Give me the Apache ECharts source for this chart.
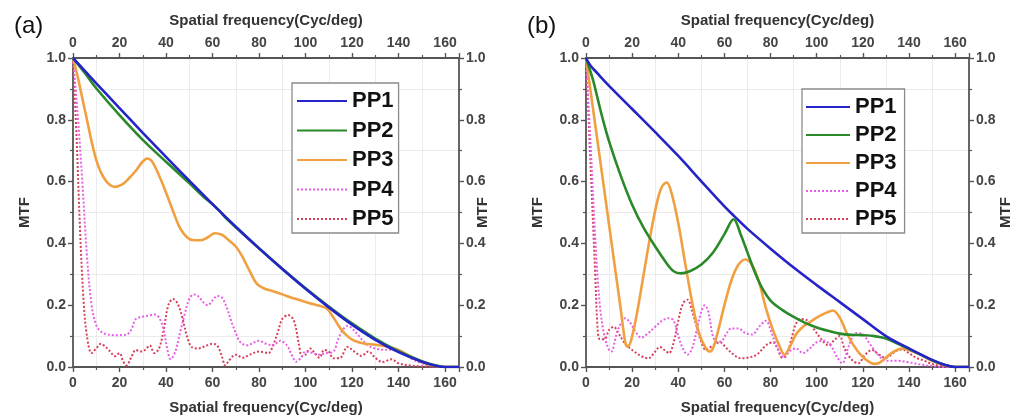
<!DOCTYPE html>
<html>
<head>
<meta charset="utf-8">
<script src="https://cdn.jsdelivr.net/npm/echarts@6/dist/echarts.min.js"></script>
<style>
  html, body { margin: 0; padding: 0; background: #fff; }
  #chart { width: 1016px; height: 418px; }
</style>
</head>
<body>
<div id="chart"></div>
<script>
// MTF curves, [spatial frequency (cyc/deg), MTF]
const seriesNames = ['PP1', 'PP2', 'PP3', 'PP4', 'PP5'];
const xTickLabels = [0, 20, 40, 60, 80, 100, 120, 140, 160];
const yTickLabels = [0, 0.2, 0.4, 0.6, 0.8, 1.0];
const faintGridX = [10, 30, 50, 70, 90, 110, 130, 150];
const faintGridY = [0.1, 0.3, 0.5, 0.7, 0.9];

// panel (a)
const a_PP1 = [[0,1],[10,0.918],[20,0.838],[30,0.758],[40,0.68],[50,0.603],[60,0.527],[70,0.454],[80,0.384],[90,0.317],[100,0.253],[110,0.193],[120,0.137],[130,0.088],[140,0.048],[150,0.017],[156,0.004],[160,0],[166,0]];
const a_PP2 = [[0,1],[5,0.952],[10,0.902],[20,0.815],[30,0.735],[40,0.664],[50,0.595],[56,0.552],[60,0.527],[63,0.505],[66,0.48],[70,0.452],[80,0.384],[90,0.318],[100,0.255],[110,0.196],[120,0.141],[130,0.092],[140,0.051],[150,0.019],[156,0.005],[160,0],[166,0]];
const a_PP3 = [[0,1],[2,0.94],[4,0.87],[6,0.8],[8,0.73],[10,0.67],[12,0.63],[15,0.595],[18,0.583],[21,0.59],[24,0.61],[27,0.635],[30,0.665],[32,0.675],[34,0.665],[37,0.62],[40,0.565],[43,0.505],[46,0.45],[49,0.42],[52,0.41],[55,0.41],[58,0.42],[61,0.433],[64,0.428],[67,0.41],[70,0.39],[73,0.355],[76,0.31],[79,0.27],[82,0.255],[86,0.245],[90,0.235],[95,0.222],[100,0.21],[105,0.2],[109,0.19],[112,0.16],[115,0.125],[118,0.1],[121,0.085],[125,0.076],[130,0.072],[135,0.066],[140,0.055],[145,0.035],[150,0.016],[155,0.005],[160,0],[166,0]];
const a_PP4 = [[0,1],[2,0.82],[4,0.6],[6,0.36],[8,0.2],[10,0.135],[12,0.115],[15,0.105],[19,0.103],[23,0.105],[25,0.12],[27,0.155],[30,0.163],[33,0.167],[35,0.17],[37,0.16],[39,0.12],[40.5,0.06],[42,0.025],[44,0.05],[46,0.11],[48,0.17],[50,0.22],[52,0.235],[54,0.228],[56,0.21],[58,0.2],[60,0.215],[62,0.23],[64,0.225],[66,0.195],[68,0.15],[70,0.11],[72,0.08],[75,0.07],[78,0.08],[80,0.085],[83,0.075],[86,0.07],[89,0.085],[92,0.07],[94,0.04],[96,0.017],[98,0.03],[100,0.05],[103,0.045],[106,0.04],[109,0.045],[112,0.05],[114,0.09],[116,0.12],[118,0.133],[120,0.125],[123,0.1],[126,0.075],[129,0.062],[133,0.056],[138,0.055],[142,0.045],[146,0.025],[150,0.012],[155,0.004],[160,0],[166,0]];
const a_PP5 = [[0,1],[1.5,0.75],[3,0.45],[4.5,0.22],[6,0.1],[8,0.045],[10,0.06],[12,0.075],[14,0.065],[16,0.05],[18,0.035],[20,0.045],[21.5,0.02],[23,0.005],[25,0.03],[27,0.055],[29,0.05],[31,0.055],[33,0.07],[35,0.045],[37,0.06],[39,0.12],[41,0.2],[43,0.22],[45,0.205],[47,0.16],[49,0.1],[51,0.065],[54,0.06],[57,0.068],[60,0.075],[62,0.07],[64,0.035],[65.5,0.005],[67,0.02],[70,0.04],[73,0.03],[76,0.04],[80,0.05],[84,0.045],[86,0.07],[88,0.11],[90,0.155],[92.5,0.168],[95,0.15],[97,0.08],[98.5,0.035],[100,0.04],[102,0.06],[104,0.045],[106,0.03],[108,0.055],[110,0.05],[112,0.028],[115,0.03],[118,0.065],[121,0.05],[124,0.036],[127,0.05],[130,0.03],[133,0.016],[137,0.025],[140,0.012],[145,0.005],[150,0.002],[160,0],[166,0]];

// panel (b)
const b_PP1 = [[0,1],[2,0.975],[5,0.95],[10,0.91],[20,0.835],[30,0.76],[40,0.683],[50,0.601],[60,0.52],[64,0.49],[70,0.447],[80,0.383],[90,0.322],[100,0.265],[110,0.21],[120,0.155],[130,0.1],[140,0.06],[150,0.023],[156,0.006],[160,0],[166,0]];
const b_PP2 = [[0,1],[3,0.93],[5,0.87],[7,0.81],[10,0.73],[15,0.62],[20,0.525],[25,0.45],[30,0.39],[35,0.335],[38,0.31],[41,0.303],[45,0.31],[50,0.332],[55,0.37],[60,0.43],[64,0.478],[67,0.43],[70,0.37],[73,0.31],[76,0.26],[80,0.215],[85,0.185],[90,0.162],[95,0.143],[100,0.128],[105,0.117],[110,0.108],[115,0.104],[120,0.103],[125,0.1],[130,0.092],[135,0.076],[140,0.058],[145,0.04],[150,0.022],[155,0.008],[160,0],[166,0]];
const b_PP3 = [[0,1],[5,0.73],[10,0.46],[15,0.19],[17,0.08],[18,0.066],[19.5,0.085],[22,0.17],[25,0.3],[28,0.43],[31,0.54],[33,0.585],[35,0.597],[37,0.565],[40,0.465],[43,0.335],[46,0.21],[49,0.11],[52,0.06],[53.5,0.05],[55,0.06],[57,0.11],[60,0.2],[63,0.28],[66,0.33],[69,0.348],[72,0.33],[75,0.275],[78,0.19],[81,0.12],[84,0.065],[86,0.04],[88,0.06],[91,0.105],[94,0.13],[97,0.145],[100,0.16],[104,0.175],[107,0.183],[110,0.16],[113,0.11],[116,0.07],[119,0.04],[122,0.02],[125,0.01],[127,0.013],[130,0.03],[133,0.048],[137,0.06],[140,0.055],[145,0.04],[150,0.02],[155,0.007],[160,0],[166,0]];
const b_PP4 = [[0,1],[2,0.72],[4,0.42],[6,0.2],[8,0.1],[10,0.055],[11,0.05],[13,0.1],[15,0.14],[17,0.158],[19,0.145],[21,0.12],[24,0.095],[27,0.11],[30,0.13],[33,0.15],[36,0.158],[38,0.15],[40,0.1],[42,0.06],[44,0.04],[46,0.06],[48,0.12],[50,0.18],[51.5,0.2],[53,0.18],[55,0.1],[57,0.08],[59,0.085],[61,0.11],[63,0.125],[66,0.125],[69,0.11],[72,0.105],[75,0.13],[78,0.15],[80,0.12],[83,0.06],[86,0.03],[88,0.05],[91,0.06],[94,0.045],[97,0.06],[100,0.08],[103,0.085],[106,0.07],[109,0.03],[111,0.012],[114,0.07],[117,0.11],[120,0.105],[123,0.075],[126,0.045],[130,0.02],[135,0.02],[140,0.015],[145,0.008],[150,0.003],[155,0],[166,0]];
const b_PP5 = [[0,1],[2,0.65],[4,0.3],[5,0.13],[6,0.09],[8,0.09],[10,0.12],[12,0.13],[14,0.11],[17,0.075],[20,0.055],[24,0.035],[27,0.028],[30,0.05],[32,0.065],[34,0.055],[36,0.045],[38,0.08],[40,0.15],[42,0.205],[44,0.218],[46,0.18],[48,0.13],[50,0.08],[52,0.055],[55,0.07],[58,0.08],[61,0.06],[64,0.04],[67,0.028],[70,0.03],[74,0.04],[78,0.07],[81,0.08],[83,0.06],[85,0.03],[87,0.04],[89,0.09],[91,0.14],[93,0.155],[96,0.15],[99,0.12],[102,0.09],[105,0.07],[108,0.09],[110,0.1],[112,0.06],[115,0.025],[118,0.012],[121,0.04],[124,0.055],[127,0.04],[130,0.03],[134,0.05],[137,0.057],[140,0.045],[143,0.03],[146,0.022],[150,0.01],[155,0.003],[160,0],[166,0]];

const panels = [
  { label: '(a)', data: [a_PP1, a_PP2, a_PP3, a_PP4, a_PP5] },
  { label: '(b)', data: [b_PP1, b_PP2, b_PP3, b_PP4, b_PP5] }
];

const FONT = '"Liberation Sans", Arial, sans-serif';
const AXIS_COLOR = '#555';
const NAME_COLOR = '#333';
const TICK_COLOR = '#444';

const lineStyles = {
  PP1: { color: '#2424c8', width: 2.6, type: 'solid' },
  PP2: { color: '#2a8a2a', width: 2.6, type: 'solid' },
  PP3: { color: '#f0a040', width: 2.6, type: 'solid' },
  PP4: { color: '#e65fe6', width: 2, type: [2, 2] },
  PP5: { color: '#d8405a', width: 2, type: [2, 2] }
};

const grids = [
  { left: 73, right: 557, top: 58, bottom: 51, containLabel: false, outerBoundsMode: 'none' },
  { left: 586, right: 47, top: 58, bottom: 51, containLabel: false, outerBoundsMode: 'none' }
];

function xAxisFor(gridIndex, position) {
  return {
    type: 'value', gridIndex, position,
    min: 0, max: 166, interval: 20,
    name: 'Spatial frequency(Cyc/deg)',
    nameLocation: 'middle', nameGap: position === 'top' ? 30 : 33, nameMoveOverlap: false,
    nameTextStyle: { fontFamily: FONT, fontSize: 15, fontWeight: 'bold', color: NAME_COLOR },
    axisLine: { show: true, onZero: false, lineStyle: { color: AXIS_COLOR, width: 1.8 } },
    axisTick: { show: true, inside: false, length: 5, lineStyle: { color: AXIS_COLOR, width: 1.4 } },
    minorTick: { show: true, splitNumber: 2, length: 3, lineStyle: { color: AXIS_COLOR, width: 1.2 } },
    axisLabel: { show: true, margin: position === 'top' ? 8 : 9, showMaxLabel: false,
      fontFamily: FONT, fontSize: 14, fontWeight: 'bold', color: TICK_COLOR,
      formatter: v => (xTickLabels.indexOf(v) >= 0 ? String(v) : '') },
    splitLine: { show: false }
  };
}

function yAxisFor(gridIndex, position, nameGap) {
  return {
    type: 'value', gridIndex, position,
    min: 0, max: 1, interval: 0.2,
    name: 'MTF', nameLocation: 'middle', nameRotate: 90, nameGap, nameMoveOverlap: false,
    nameTextStyle: { fontFamily: FONT, fontSize: 15, fontWeight: 'bold', color: NAME_COLOR },
    axisLine: { show: true, onZero: false, lineStyle: { color: AXIS_COLOR, width: 1.8 } },
    axisTick: { show: true, inside: false, length: 5, lineStyle: { color: AXIS_COLOR, width: 1.4 } },
    minorTick: { show: true, splitNumber: 2, length: 3, lineStyle: { color: AXIS_COLOR, width: 1.2 } },
    axisLabel: { show: true, margin: 7, fontFamily: FONT, fontSize: 14, fontWeight: 'bold', color: TICK_COLOR,
      formatter: v => (yTickLabels.some(t => Math.abs(t - v) < 1e-9) ? v.toFixed(1) : '') },
    splitLine: { show: false }
  };
}

const xAxes = [], yAxes = [], series = [], legends = [], titles = [];
const legendPos = [
  { left: 292, top: 83, itemWidth: 50, itemGap: 7.5, padding: [7, 5, 3, 4] },
  { left: 802, top: 89, itemWidth: 44, itemGap: 6, padding: [7, 8, 3, 3] }
];
const titlePos = [{ left: 9, top: 9 }, { left: 522, top: 9 }];
const rightNameGap = [16, 29];

panels.forEach((p, gi) => {
  xAxes.push(xAxisFor(gi, 'bottom'));
  xAxes.push(xAxisFor(gi, 'top'));
  yAxes.push(yAxisFor(gi, 'left', 41));
  yAxes.push(yAxisFor(gi, 'right', rightNameGap[gi]));
  const xi = gi * 2, yi = gi * 2;

  // faint background grid lines
  series.push({
    type: 'line', xAxisIndex: xi, yAxisIndex: yi, data: [], silent: true, z: 0,
    markLine: {
      silent: true, symbol: 'none', animation: false, z: 0,
      label: { show: false },
      lineStyle: { color: '#ebebeb', width: 1, type: 'solid' },
      data: faintGridX.map(v => ({ xAxis: v })).concat(faintGridY.map(v => ({ yAxis: v })))
    }
  });

  seriesNames.forEach((name, si) => {
    series.push({
      type: 'line', name, xAxisIndex: xi, yAxisIndex: yi,
      data: p.data[si], symbol: 'none', smooth: 0.35, animation: false,
      z: 10 - si,
      lineStyle: Object.assign({}, lineStyles[name]),
      itemStyle: { color: lineStyles[name].color }
    });
  });

  legends.push(Object.assign({
    orient: 'vertical', data: seriesNames, z: 20,
    itemHeight: 14, selectedMode: false,
    itemStyle: { opacity: 0 },
    backgroundColor: '#fff', borderColor: '#8a8a8a', borderWidth: 1.3, borderRadius: 0,
    textStyle: { fontFamily: FONT, fontSize: 22, fontWeight: 'bold', color: '#111', lineHeight: 22 }
  }, legendPos[gi]));

  titles.push(Object.assign({
    text: p.label,
    textStyle: { fontFamily: FONT, fontSize: 24, fontWeight: 'normal', color: '#111' }
  }, titlePos[gi]));
});

const chart = echarts.init(document.getElementById('chart'), null, { renderer: 'canvas' });
chart.setOption({
  backgroundColor: '#fff',
  animation: false,
  title: titles,
  grid: grids,
  xAxis: xAxes,
  yAxis: yAxes,
  legend: legends,
  series
});
</script>
</body>
</html>
